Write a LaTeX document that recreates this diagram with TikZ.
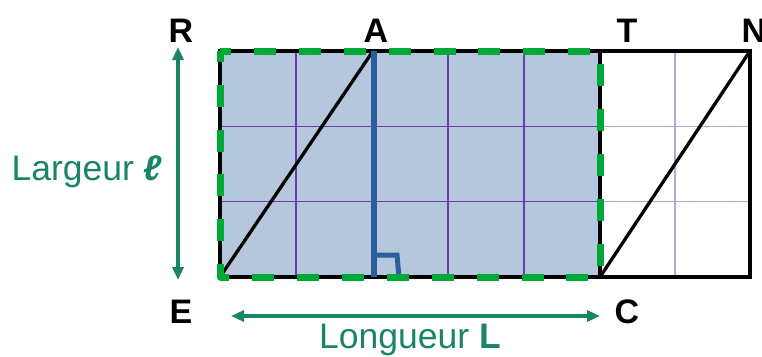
\documentclass[tikz,border=0pt]{standalone}
\usepackage{fontspec}
\setmainfont{Liberation Sans}
\usetikzlibrary{arrows.meta}
\definecolor{fillblue}{HTML}{B4C7DC}
\definecolor{gridp}{HTML}{6A3DAA}
\definecolor{gridl}{HTML}{B3A5D6}
\definecolor{hblue}{HTML}{2A5F9C}
\definecolor{dgreen}{HTML}{00A838}
\definecolor{tgreen}{HTML}{1A8466}
\tikzset{
  gridin/.style={gridp, line width=1.1pt},
  gridout/.style={gridl, line width=1.1pt},
  outline/.style={black, line width=3.5pt, line join=miter},
  diag/.style={black, line width=3.3pt},
  heightline/.style={hblue, line width=6pt},
  greendash/.style={dgreen, line width=7pt, line join=round, dash pattern=on 22pt off 22.9pt, dash phase=11pt},
  dimarrow/.style={tgreen, line width=3.5pt, {Triangle[width=11pt,length=13pt]}-{Triangle[width=11pt,length=13pt]}},
  ptlabel/.style={font=\fontsize{34}{40}\selectfont\bfseries, anchor=base, inner sep=0pt},
  dimlabel/.style={tgreen, font=\fontsize{35.5}{40}\selectfont, anchor=base, inner sep=0pt}
}
\begin{document}
\begin{tikzpicture}[x=1pt,y=-1pt]
\useasboundingbox (0,0) rectangle (762,356);
\coordinate (R) at (220,51);
\coordinate (A) at (373,51);
\coordinate (T) at (600,51);
\coordinate (N) at (750,51);
\coordinate (E) at (220,277);
\coordinate (C) at (600,277);
\coordinate (B) at (750,277);
\coordinate (Atop) at (374,51);
\coordinate (Hfoot) at (374,277);
\coordinate (Ra) at (376,255);
\coordinate (Rb) at (397,255);
\coordinate (Rc) at (399,277);
% fill
\fill[fillblue] (R) rectangle (C);
% grid
\foreach \x in {296,372,448,524} \draw[gridin] (\x,51) -- (\x,277);
\foreach \y in {126.3,201.7} \draw[gridin] (220,\y) -- (600,\y);
\draw[gridout] (675,51) -- (675,277);
\foreach \y in {126.3,201.7} \draw[gridout] (600,\y) -- (750,\y);
% outline
\draw[outline] (R) -- (N) -- (B) -- (E) -- cycle;
\draw[outline] (T) -- (C);
% diagonals
\draw[diag] (E) -- (A);
\draw[diag] (C) -- (N);
% height
\draw[heightline] (Atop) -- (Hfoot);
\draw[hblue, line width=5pt] (Ra) -- (Rb) -- (Rc);
% green dashed rectangle
\draw[greendash] (R) -- (T) -- (C) -- (E) -- cycle;
% dimension arrows
\coordinate (vtop) at (178,47);
\coordinate (vbot) at (178,280);
\coordinate (hleft) at (231,316);
\coordinate (hright) at (600,316);
\draw[dimarrow] (vtop) -- (vbot);
\draw[dimarrow] (hleft) -- (hright);
% labels
\node[ptlabel] (lR) at (181,42) {R};
\node[ptlabel] (lA) at (376,42) {A};
\node[ptlabel] (lT) at (627,42) {T};
\node[ptlabel] (lN) at (754,42) {N};
\node[ptlabel] (lE) at (181,323) {E};
\node[ptlabel] (lC) at (627,323) {C};
\node[dimlabel] (larg) at (87,180) {Largeur \textbf{\textit{ℓ}}};
\node[dimlabel] (long) at (410,348) {Longueur \textbf{L}};
\end{tikzpicture}
\end{document}
